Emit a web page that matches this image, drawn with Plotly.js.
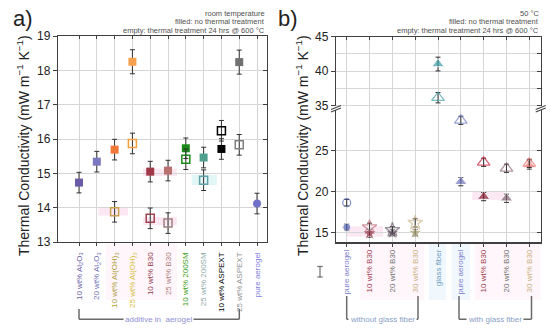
<!DOCTYPE html>
<html><head><meta charset="utf-8">
<script src="https://cdn.plot.ly/plotly-3.0.1.min.js"></script>
<style>html,body{margin:0;padding:0;background:#fff}#chart{width:550px;height:332px}</style>
</head><body><div id="chart"></div>
<script>
// ---------- Panel a (room temperature) ----------
const catsA = ["10 wt% Al<sub>2</sub>O<sub>3</sub>", "20 wt% Al<sub>2</sub>O<sub>3</sub>", "10 wt% Al(OH)<sub>3</sub>", "25 wt% Al(OH)<sub>3</sub>", "10 wt% B30", "25 wt% B30", "10 wt% 200SM", "25 wt% 200SM", "10 wt% ASPEXT", "25 wt% ASPEXT", "pure aerogel"];
const labelColorsA = ["#6a60a8", "#7070b8", "#b0a040", "#d8c040", "#904050", "#b08080", "#40a020", "#90aaa8", "#000000", "#909090", "#8080e0"];
const filledA = [14.73, 15.34, 15.69, 18.25, 15.05, 15.08, 15.73, 15.46, 15.71, 18.24, 14.12];
const filledErrA = [0.3, 0.3, 0.3, 0.35, 0.3, 0.3, 0.3, 0.3, 0.3, 0.35, 0.3];
const filledColorsA = ["#6a5aa8", "#7b78c0", "#f07838", "#f8a050", "#a03848", "#b87070", "#1a8a1a", "#50a090", "#000000", "#707070", "#7070c8"];
const filledSymbolsA = ["square", "square", "square", "square", "square", "square", "square", "square", "square", "square", "circle"];
const emptyA = [null, null, 13.88, 15.87, 13.69, 13.55, 15.41, 14.80, 16.24, 15.83, null];
const emptyErrA = [0, 0, 0.3, 0.3, 0.3, 0.3, 0.3, 0.3, 0.3, 0.3, 0];
const emptyColorsA = ["#000", "#000", "#c8a050", "#f5a040", "#a04050", "#a08080", "#1a8a1a", "#60a0a8", "#000000", "#808080", "#000"];
const notesA = ["room temperature", "filled: no thermal treatment", "empty: thermal treatment 24 hrs @ 600 °C"];
const yTicksA = [13, 14, 15, 16, 17, 18, 19];

// ---------- Panel b (50 °C) ----------
const catsB = ["pure aerogel", "10 wt% B30", "20 wt% B30", "30 wt% B30", "glass fiber", "pure aerogel", "10 wt% B30", "20 wt% B30", "30 wt% B30"];
const labelColorsB = ["#8080d0", "#a04050", "#707070", "#c8b080", "#70a0c0", "#8080d0", "#a04050", "#707070", "#c8b080"];
const filledB = [15.66, 14.93, 15.0, 15.0, 41.04, 21.22, 19.4, 19.2, 23.25];
const filledErrB = [0.4, 0.5, 0.4, 0.4, 1.0, 0.5, 0.5, 0.5, 0.5];
const filledColorsB = ["#5060b0", "#8a2a3a", "#605060", "#a09868", "#3aa0a8", "#7070c0", "#8a2030", "#806070", "#f08888"];
const emptyB = [18.66, 15.66, 15.33, 16.2, 36.16, 28.7, 23.58, 22.85, 23.45];
const emptyErrB = [0.4, 0.5, 0.4, 0.5, 0.75, 0.5, 0.5, 0.5, 0.5];
const emptyColorsB = ["#6070c0", "#c06878", "#706070", "#d0b890", "#40a0a8", "#7080c0", "#d02040", "#906878", "#f07070"];
const shapesB = ["circle", "star", "star", "star", "triangle-up", "triangle-up", "triangle-up", "triangle-up", "triangle-up"];
const notesB = ["50 °C", "filled: no thermal treatment", "empty: thermal treatment 24 hrs @ 600 °C"];
const yTicksBLow = [15, 20, 25];
const yTicksBHigh = [35, 40, 45];
const upperIdx = [4]; // glass fiber sits on the upper (broken) axis

const W = 550, H = 332;
const px = x => x / W, py = y => 1 - y / H;
const FONT = "Liberation Sans, Arial, sans-serif";
const idxA = catsA.map((_, i) => i);
const idxB = catsB.map((_, i) => i);
const colored = (labels, cols) => labels.map((t, i) => `<span style="color:${cols[i]}">${t}</span>`);
const errStyle = arr => ({type: 'data', array: arr, visible: true, color: '#303030', thickness: 1, width: 2.5});

const traces = [];
// panel a
traces.push({x: idxA, y: filledA, xaxis: 'x', yaxis: 'y', mode: 'markers', error_y: errStyle(filledErrA),
  marker: {symbol: filledSymbolsA, color: filledColorsA, size: 8}, hoverinfo: 'skip', showlegend: false});
traces.push({x: idxA, y: emptyA, xaxis: 'x', yaxis: 'y', mode: 'markers', error_y: errStyle(emptyErrA),
  marker: {symbol: 'square-open', color: emptyColorsA, size: 8, line: {width: 1.5}}, hoverinfo: 'skip', showlegend: false});
// panel b
function split(vals, upper) { return vals.map((v, i) => (upperIdx.includes(i) === upper) ? v : null); }
[[false, 'x2', 'y2'], [true, 'x3', 'y3']].forEach(([up, xa, ya]) => {
  traces.push({x: idxB, y: split(filledB, up), xaxis: xa, yaxis: ya, mode: 'markers', error_y: errStyle(filledErrB),
    marker: {symbol: shapesB, color: filledColorsB, size: shapesB.map(s => s === 'circle' ? 8 : 11)}, hoverinfo: 'skip', showlegend: false});
  traces.push({x: idxB, y: split(emptyB, up), xaxis: xa, yaxis: ya, mode: 'markers', error_y: errStyle(emptyErrB),
    marker: {symbol: shapesB.map(s => s + '-open'), color: emptyColorsB, size: shapesB.map(s => s === 'circle' ? 8 : 11), line: {width: 1.3}}, hoverinfo: 'skip', showlegend: false});
});
// invisible helpers so the mirrored inside-tick axes get drawn
const ghost = (xa, ya, y) => ({x: [0], y: [y], xaxis: xa, yaxis: ya, mode: 'markers', marker: {opacity: 0}, hoverinfo: 'skip', showlegend: false});
traces.push(ghost('x5', 'y', 14), ghost('x', 'y5', 14), ghost('x2', 'y6', 20), ghost('x3', 'y7', 40));

const lineC = '#404040', gridC = '#d6d6d6';
const base = {showline: true, linecolor: lineC, linewidth: 1.2, zeroline: false, tickcolor: lineC, tickfont: {family: FONT, size: 12, color: '#222'}, fixedrange: true};
const xRangeA = [-1.18, 10.56], xRangeB = [-0.47, 8.5];
const yRangeBLow = [13.83, 30.2], yRangeBHigh = [34.67, 45];

const layout = {
  width: W, height: H, margin: {l: 0, r: 0, t: 0, b: 0}, paper_bgcolor: '#fff', plot_bgcolor: 'rgba(0,0,0,0)',
  font: {family: FONT},
  xaxis: Object.assign({}, base, {domain: [px(58), px(267)], range: xRangeA, anchor: 'y', tickmode: 'array', tickvals: idxA,
    ticktext: colored(catsA, labelColorsA), tickangle: -90, ticks: 'outside', ticklen: 3, showgrid: true, gridcolor: gridC, mirror: true,
    tickfont: {family: FONT, size: 8}, ticklabelstandoff: 3}),
  yaxis: Object.assign({}, base, {domain: [py(242), py(36)], range: [13, 19], anchor: 'x', tickmode: 'array', tickvals: yTicksA,
    ticks: 'outside', ticklen: 4, showgrid: true, gridcolor: gridC, mirror: true}),
  xaxis5: {overlaying: 'x', side: 'top', anchor: 'y', range: xRangeA, tickmode: 'array', tickvals: idxA, ticks: 'inside', ticklen: 3,
    tickcolor: lineC, showticklabels: false, showgrid: false, showline: false, zeroline: false, fixedrange: true},
  yaxis5: {overlaying: 'y', side: 'right', anchor: 'x', range: [13, 19], tickmode: 'array', tickvals: yTicksA, ticks: 'inside', ticklen: 4,
    tickcolor: lineC, showticklabels: false, showgrid: false, showline: false, zeroline: false, fixedrange: true},

  xaxis2: Object.assign({}, base, {domain: [px(336), px(540.7)], range: xRangeB, anchor: 'y2', tickmode: 'array', tickvals: idxB,
    ticktext: colored(catsB, labelColorsB), tickangle: -90, ticks: 'outside', ticklen: 3, showgrid: true, gridcolor: gridC, mirror: false,
    tickfont: {family: FONT, size: 8}}),
  yaxis2: Object.assign({}, base, {domain: [py(242.3), py(108)], range: yRangeBLow, anchor: 'x2', tickmode: 'array', tickvals: yTicksBLow,
    ticks: 'outside', ticklen: 4, showgrid: true, gridcolor: gridC, mirror: true}),
  xaxis3: Object.assign({}, base, {domain: [px(336), px(540.7)], range: xRangeB, anchor: 'y3', side: 'top', tickmode: 'array', tickvals: idxB,
    ticks: 'inside', ticklen: 3, showticklabels: false, showgrid: true, gridcolor: gridC, mirror: false}),
  yaxis3: Object.assign({}, base, {domain: [py(108), py(36.7)], range: yRangeBHigh, anchor: 'x3', tickmode: 'array', tickvals: yTicksBHigh,
    ticks: 'outside', ticklen: 4, showgrid: true, gridcolor: gridC, mirror: true,
    minor: {tickmode: 'linear', tick0: 35, dtick: 2.5, showgrid: true, gridcolor: gridC, ticks: ''}}),
  yaxis6: {overlaying: 'y2', side: 'right', anchor: 'x2', range: yRangeBLow, tickmode: 'array', tickvals: yTicksBLow, ticks: 'inside', ticklen: 4,
    tickcolor: lineC, showticklabels: false, showgrid: false, showline: false, zeroline: false, fixedrange: true},
  yaxis7: {overlaying: 'y3', side: 'right', anchor: 'x3', range: yRangeBHigh, tickmode: 'linear', tick0: 35, dtick: 2.5, ticks: 'inside', ticklen: 4,
    tickcolor: lineC, showticklabels: false, showgrid: false, showline: false, zeroline: false, fixedrange: true},
  shapes: [], annotations: []
};

const S = layout.shapes, A = layout.annotations;
const pink = 'rgba(248,205,228,0.45)', pinkLab = 'rgba(250,222,236,0.28)', blueLab = 'rgba(215,235,248,0.35)', teal = 'rgba(190,235,235,0.45)';
// highlight bands inside plots
const band = (xr, yr, x0, x1, y0, y1, c) => S.push({type: 'rect', xref: xr, yref: yr, x0, x1, y0, y1, fillcolor: c, line: {width: 0}, layer: 'below'});
band('x', 'y', 1.08, 2.75, 13.77, 14.0, pink);
band('x', 'y', 3.6, 5.5, 14.92, 15.14, pink);
band('x', 'y', 3.6, 5.5, 13.49, 13.73, pink);
band('x', 'y', 6.33, 7.74, 14.66, 14.95, teal);
band('x2', 'y2', 0.0, 1.6, 14.5, 15.8, pink);
band('x2', 'y2', 5.5, 6.9, 19.0, 20.0, pink);
// label backgrounds
const labBg = (xr, x0, x1, c) => S.push({type: 'rect', xref: xr, yref: 'paper', x0, x1, y0: py(300), y1: py(244), fillcolor: c, line: {width: 0}, layer: 'below'});
labBg('x', 1.5, 5.5, pinkLab);
labBg('x2', 0.6, 3.4, pinkLab);
labBg('x2', 3.6, 4.35, blueLab);
labBg('x2', 4.6, 5.4, blueLab);
labBg('x2', 5.6, 8.5, pinkLab);
// brackets
const pl = (x0, y0, x1, y1, c, w) => S.push({type: 'line', xref: 'paper', yref: 'paper', x0: px(x0), y0: py(y0), x1: px(x1), y1: py(y1), line: {color: c || '#6a6a6a', width: w || 1.5}});
pl(79, 309, 79, 319.3); pl(79, 319.3, 239.3, 319.3); pl(239.3, 309, 239.3, 319.3);
pl(346.7, 296, 346.7, 319.3); pl(346.7, 319.3, 418, 319.3); pl(418, 296, 418, 319.3);
pl(459, 296, 459, 319.3); pl(459, 319.3, 531.5, 319.3); pl(531.5, 296, 531.5, 319.3);
// error-bar glyph
pl(320, 266.5, 320, 277, '#707070', 1.2); pl(317.3, 266.5, 322.7, 266.5, '#707070', 1.2); pl(317.3, 277, 322.7, 277, '#707070', 1.2);
// axis break marks
[336, 540.7].forEach(xx => {
  S.push({type: 'rect', xref: 'paper', yref: 'paper', x0: px(xx - 2), x1: px(xx + 2), y0: py(110), y1: py(106), fillcolor: '#fff', line: {width: 0}});
  pl(xx - 5, 109.5, xx + 5, 105.5, lineC, 1.1); pl(xx - 5, 112, xx + 5, 108, lineC, 1.1);
});

// text
const ann = (text, x, y, o) => A.push(Object.assign({text, x: px(x), y: py(y), xref: 'paper', yref: 'paper', showarrow: false,
  xanchor: 'center', yanchor: 'middle', font: {family: FONT, size: 8, color: '#444'}}, o || {}));
ann('a)', 23, 18, {font: {family: FONT, size: 22, color: '#222'}});
ann('b)', 288, 18, {font: {family: FONT, size: 22, color: '#222'}});
const yTitle = 'Thermal Conductivity (mW m<sup>−1</sup> K<sup>−1</sup>)';
ann(yTitle, 23, 146, {textangle: -90, font: {family: FONT, size: 14, color: '#222'}});
ann(yTitle, 302, 146, {textangle: -90, font: {family: FONT, size: 14, color: '#222'}});
[13, 21.5, 30].forEach((yy, i) => {
  ann(notesA[i], 267, yy, {xanchor: 'right', font: {family: FONT, size: 7.5, color: '#505050'}});
  ann(notesB[i], 540.7, yy, {xanchor: 'right', font: {family: FONT, size: 7.5, color: '#505050'}});
});
ann('additive in  aerogel', 158, 319.3, {bgcolor: '#fff', font: {family: FONT, size: 8, color: '#9090d8'}, borderpad: 1});
ann('without glass fiber', 382, 319.3, {bgcolor: '#fff', font: {family: FONT, size: 8, color: '#8aa0c8'}, borderpad: 1});
ann('with glass fiber', 495, 319.3, {bgcolor: '#fff', font: {family: FONT, size: 8, color: '#8aa0c8'}, borderpad: 1});

Plotly.newPlot('chart', traces, layout, {staticPlot: true});
</script></body></html>
